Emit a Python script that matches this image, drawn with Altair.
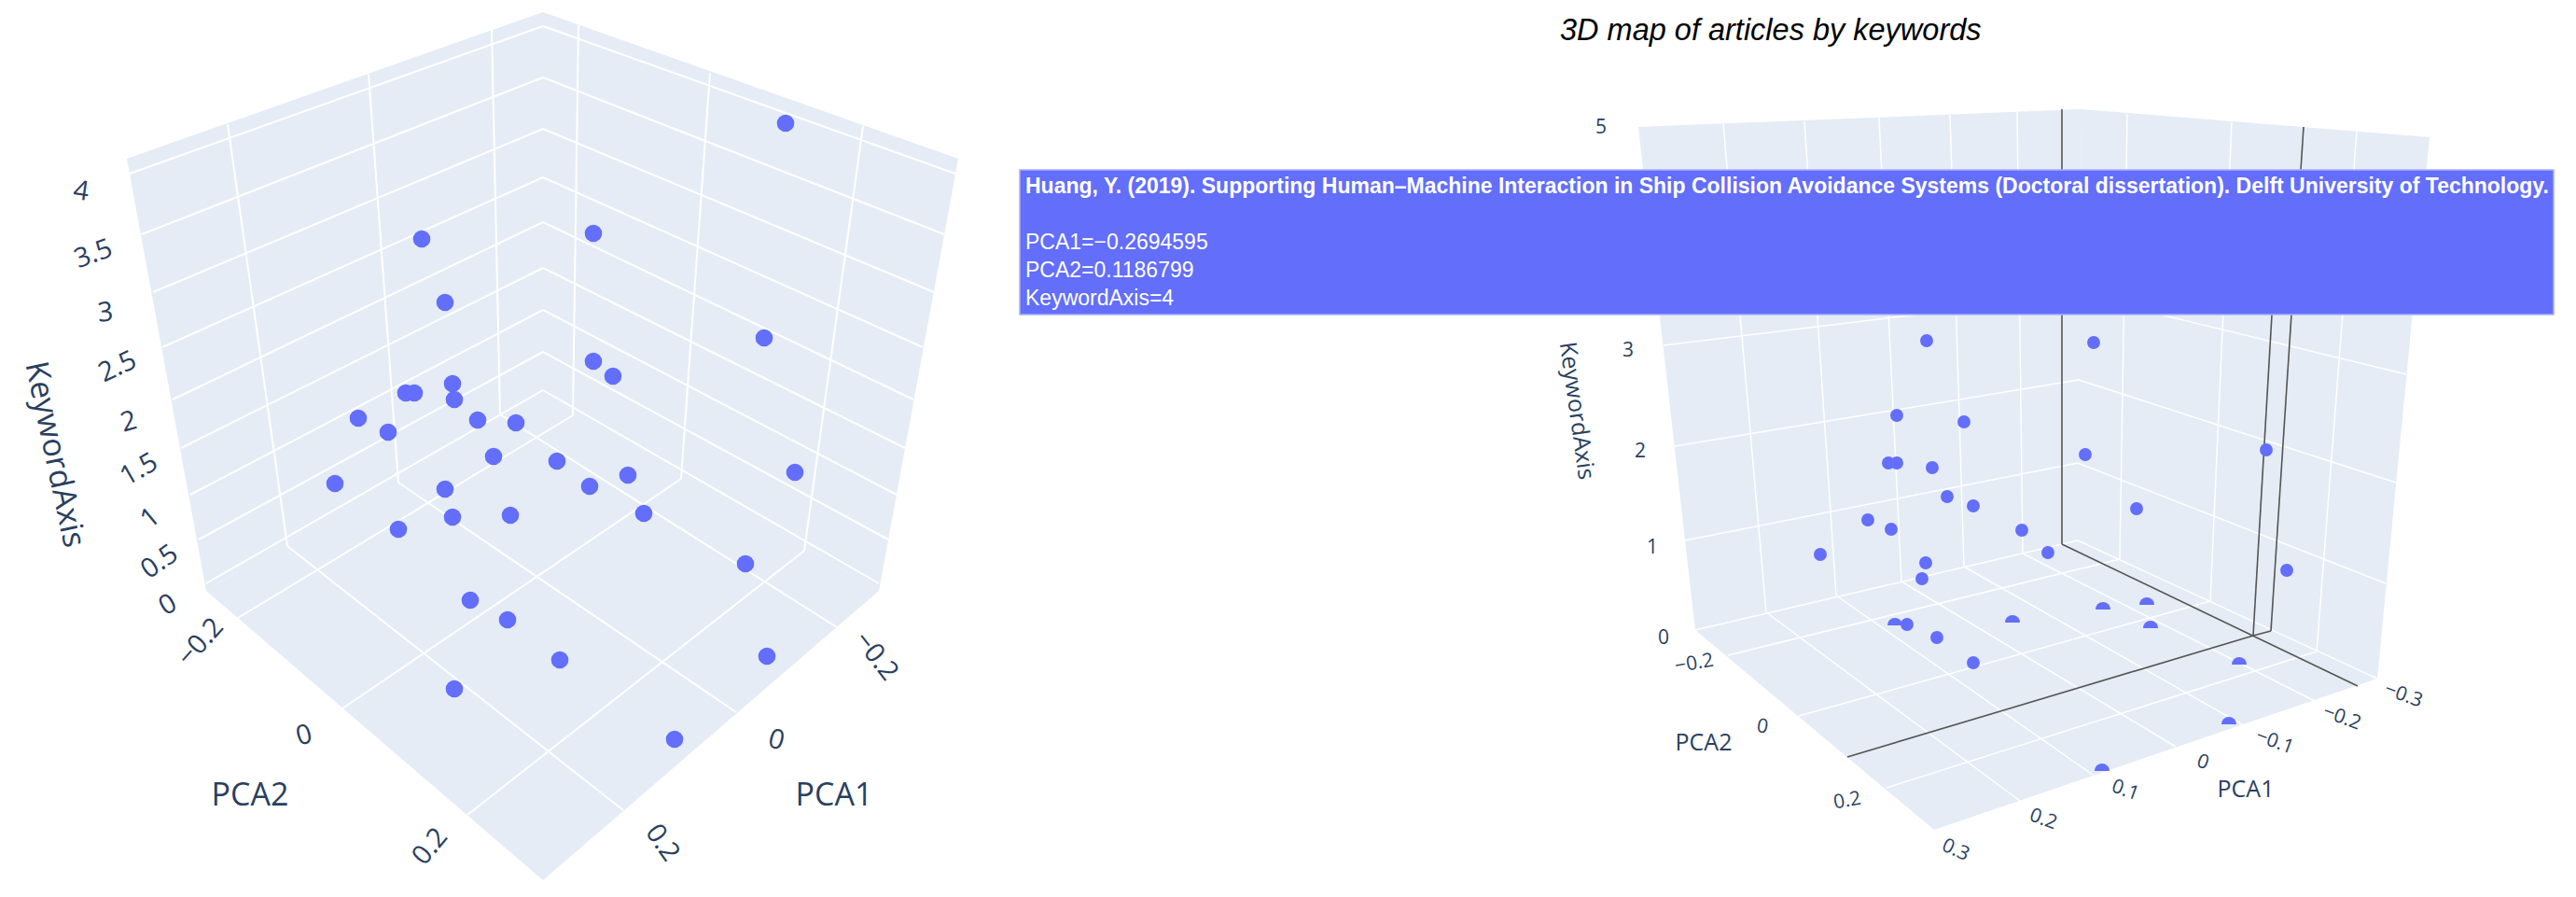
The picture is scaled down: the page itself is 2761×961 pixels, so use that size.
import altair as alt
import numpy as np
import pandas as pd

WALL = "#e5ecf6"
DOT = "#636efa"
INK = "#2a3f5f"
SANS = "Open Sans"

# ---- projected corners of the two 3D boxes
left_walls = [
    [(136, 170), (221, 633), (583, 418), (582, 13)],
    [(582, 13), (581, 418), (942, 633), (1027, 170)],
    [(221, 633), (582, 943), (942, 633), (582, 418)],
]
right_walls = [
    [(1756, 136), (1817, 675), (2228, 579), (2231, 117)],
    [(2231, 117), (2226, 579), (2548, 727), (2604, 147)],
    [(1817, 675), (2073, 889), (2548, 727), (2227, 579)],
]

# ---- grid lines of the left scene: x, y, x2, y2
left_grid = [
    (139, 186, 582, 28), (582, 28, 1024, 186),
    (152, 251, 582, 83), (582, 83, 1012, 251),
    (164, 313, 582, 138), (582, 138, 1001, 313),
    (174, 372, 582, 190), (582, 190, 989, 372),
    (185, 428, 582, 238), (582, 238, 979, 428),
    (194, 480, 582, 287), (582, 287, 970, 480),
    (204, 530, 582, 332), (582, 332, 961, 530),
    (213, 578, 582, 377), (582, 377, 952, 578),
    (221, 625, 582, 418), (582, 418, 942, 625),
    (244, 133, 308, 585), (395, 79, 427, 517), (527, 32, 536, 444),
    (620, 27, 614, 445), (761, 78, 730, 513), (925, 135, 862, 590),
    (308, 585, 668, 868), (427, 517, 789, 763), (536, 444, 897, 672),
    (614, 445, 255, 662), (730, 513, 367, 759), (862, 590, 501, 873),
]

# ---- grid lines of the right scene
right_grid = [
    (1770, 257, 2229, 215), (2229, 215, 2592, 283),
    (1783, 370, 2229, 316), (2229, 316, 2579, 401),
    (1795, 478, 2228, 407), (2228, 407, 2568, 517),
    (1806, 579, 2227, 496), (2227, 496, 2557, 625),
    (1817, 675, 2227, 579), (2227, 579, 2548, 727),
    (1847, 133, 1893, 656), (1934, 130, 1968, 638), (2014, 126, 2038, 623),
    (2090, 123, 2105, 607), (2162, 119, 2168, 593),
    (2280, 122, 2272, 599), (2392, 131, 2369, 644), (2526, 141, 2483, 698),
    (1893, 656, 2165, 858), (1968, 638, 2243, 830), (2038, 623, 2332, 800),
    (2105, 607, 2408, 779), (2168, 593, 2485, 753),
    (1852, 702, 2272, 599), (1928, 767, 2369, 644), (2022, 844, 2483, 698),
]

# ---- the dark frame drawn over the right scene
frame_lines = [
    (2210, 117, 2210, 583), (2210, 583, 2527, 735),
    (2415, 681, 2443, 200), (2434, 676, 2469, 136),
    (2415, 681, 2434, 676), (2415, 681, 1980, 811),
]

# ---- scatter points as seen on the picture
left_x = [842, 452, 636, 477, 819, 636, 657, 485, 487, 435, 444, 384, 416, 512, 553,
          529, 597, 673, 632, 852, 359, 477, 485, 547, 690, 427, 799, 504, 544, 600,
          822, 487, 723]
left_y = [132, 256, 250, 324, 362, 387, 403, 411, 428, 421, 421, 448, 463, 450, 453,
          489, 494, 509, 521, 506, 518, 524, 554, 552, 550, 567, 604, 643, 664, 707,
          703, 738, 792]
right_x = [2065, 2033, 2105, 2024, 2033, 2071, 2087, 2115, 2002, 2027, 2167, 2195, 1951,
           2064, 2060, 2044, 2076, 2115, 2244, 2235, 2290, 2429, 2451]
right_y = [365, 445, 452, 496, 496, 501, 532, 542, 557, 567, 568, 592, 594,
           603, 620, 669, 683, 710, 367, 487, 545, 482, 611]
# points cut by the floor: only the upper half shows
cut_x = [2031, 2157, 2254, 2301, 2305, 2400, 2389, 2253]
cut_y = [670, 667, 653, 648, 673, 712, 776, 826]

# ---- texts
left_labels = [
    ("4", 87, 205, 8), ("3.5", 100, 272, -20), ("3", 113, 335, -5), ("2.5", 126, 393, -25),
    ("2", 138, 452, -15), ("1.5", 149, 503, -30), ("1", 161, 555, -40), ("0.5", 171, 602, -35),
    ("0", 180, 648, -30), ("\u22120.2", 215, 688, -48), ("0", 326, 788, -15), ("0.2", 461, 907, -50),
    ("\u22120.2", 939, 703, 52), ("0", 832, 793, 15), ("0.2", 710, 903, 55),
]
left_titles = [("KeywordAxis", 58, 487, 78), ("PCA2", 268, 853, 0), ("PCA1", 894, 853, 0)]
right_labels = [
    ("5", 1716, 137, 0), ("3", 1745, 376, 0), ("2", 1758, 484, 0), ("1", 1771, 587, 0),
    ("0", 1783, 684, 0), ("\u22120.2", 1816, 711, -10), ("0", 1889, 779, 10), ("0.2", 1980, 858, -10),
    ("\u22120.3", 2576, 745, 20), ("\u22120.2", 2510, 769, 20), ("\u22120.1", 2438, 795, 20),
    ("0", 2361, 817, 20), ("0.1", 2278, 847, 20), ("0.2", 2190, 878, 20), ("0.3", 2096, 911, 25),
]
right_titles = [("KeywordAxis", 1690, 440, 82), ("PCA2", 1826, 796, 0), ("PCA1", 2407, 846, 0)]

title_text = ["3D map of articles by keywords"]
hover_head = ["Huang, Y. (2019). Supporting Human\u2013Machine Interaction in Ship Collision "
              "Avoidance Systems (Doctoral dissertation). Delft University of Technology."]
hover_lines = ["PCA1=\u22120.2694595", "PCA2=0.1186799", "KeywordAxis=4"]
hover_line_y = [260, 290, 320]

X = alt.X("x:Q", scale=alt.Scale(domain=[8, 2753], nice=False, zero=False), axis=None)
Y = alt.Y("y:Q", scale=alt.Scale(domain=[953, 8], nice=False, zero=False), axis=None)


def polygons(groups):
    rows = []
    n = 0
    for poly in groups:
        pts = np.array(poly, dtype=float)
        xs = np.unique(pts[:, 0])
        i = int(np.argmin(pts[:, 0]))
        j = int(np.argmax(pts[:, 0]))
        ring = list(range(len(pts)))
        ring = ring[i:] + ring[:i]
        k = ring.index(j)
        a = pts[ring[:k + 1]]
        b = pts[ring[k:] + [ring[0]]][::-1]
        ya = np.interp(xs, a[:, 0], a[:, 1])
        yb = np.interp(xs, b[:, 0], b[:, 1])
        for u, v, w in zip(xs, ya, yb):
            rows.append({"poly": n, "x": u, "y": v, "y2": w})
        n += 1
    return pd.DataFrame(rows)


def segs(table):
    return pd.DataFrame(table, columns=["x", "y", "x2", "y2"])


def rules(table, color, width):
    return alt.Chart(segs(table)).mark_rule(color=color, strokeWidth=width).encode(
        x=X, y=Y, x2="x2:Q", y2="y2:Q")


def texts(table, size, color=INK, font=SANS, **kw):
    df = pd.DataFrame(table, columns=["t", "x", "y", "a"])
    return alt.Chart(df).mark_text(color=color, font=font, fontSize=size, align="center",
                                   baseline="middle", **kw).encode(
        x=X, y=Y, text="t:N", angle=alt.Angle("a:Q", scale=None))


def dots(xs, ys, size):
    return alt.Chart(pd.DataFrame({"x": xs, "y": ys})).mark_circle(
        color=DOT, size=size, opacity=1).encode(x=X, y=Y)


walls = alt.Chart(polygons(left_walls + right_walls)).mark_area(
    color=WALL, orient="vertical", opacity=1, interpolate="linear").encode(
    x=X, y=Y, y2="y2:Q", detail="poly:N")

cuts = alt.Chart(pd.DataFrame({"x": cut_x, "y": cut_y})).mark_arc(
    color=DOT, theta=3 * np.pi / 2, theta2=5 * np.pi / 2, outerRadius=8, innerRadius=0).encode(x=X, y=Y)

hover_box = alt.Chart(pd.DataFrame({"x": [1093], "y": [182], "x2": [2737], "y2": [337]})).mark_rect(
    color=DOT, stroke="#a9b0fb", strokeWidth=1.5).encode(x=X, y=Y, x2="x2:Q", y2="y2:Q")

head = alt.Chart(pd.DataFrame({"x": [1099], "y": [200], "t": hover_head})).mark_text(
    color="white", font="Liberation Sans", fontWeight="bold", fontSize=23, align="left",
    baseline="middle").encode(x=X, y=Y, text="t:N")
body = alt.Chart(pd.DataFrame({"x": [1099] * 3, "y": hover_line_y, "t": hover_lines})).mark_text(
    color="white", font="Liberation Sans", fontSize=23, align="left",
    baseline="middle").encode(x=X, y=Y, text="t:N")
title = alt.Chart(pd.DataFrame({"x": [1672], "y": [33], "t": title_text})).mark_text(
    color="black", font="Liberation Sans", fontStyle="italic", fontSize=32.5, align="left",
    baseline="middle").encode(x=X, y=Y, text="t:N")

chart = alt.layer(
    walls,
    rules(left_grid, "white", 2),
    rules(right_grid, "white", 1.5),
    rules(frame_lines, "#555555", 1.6),
    dots(left_x, left_y, 346),
    dots(right_x, right_y, 194),
    cuts,
    texts(left_labels, 29),
    texts(left_titles, 34),
    texts(right_labels, 21),
    texts(right_titles, 25),
    title,
    hover_box,
    head,
    body,
).properties(width=2745, height=945, padding=0, background="white").configure_view(stroke=None)

chart.save("out.html", embed_options={"renderer": "svg", "actions": False})
